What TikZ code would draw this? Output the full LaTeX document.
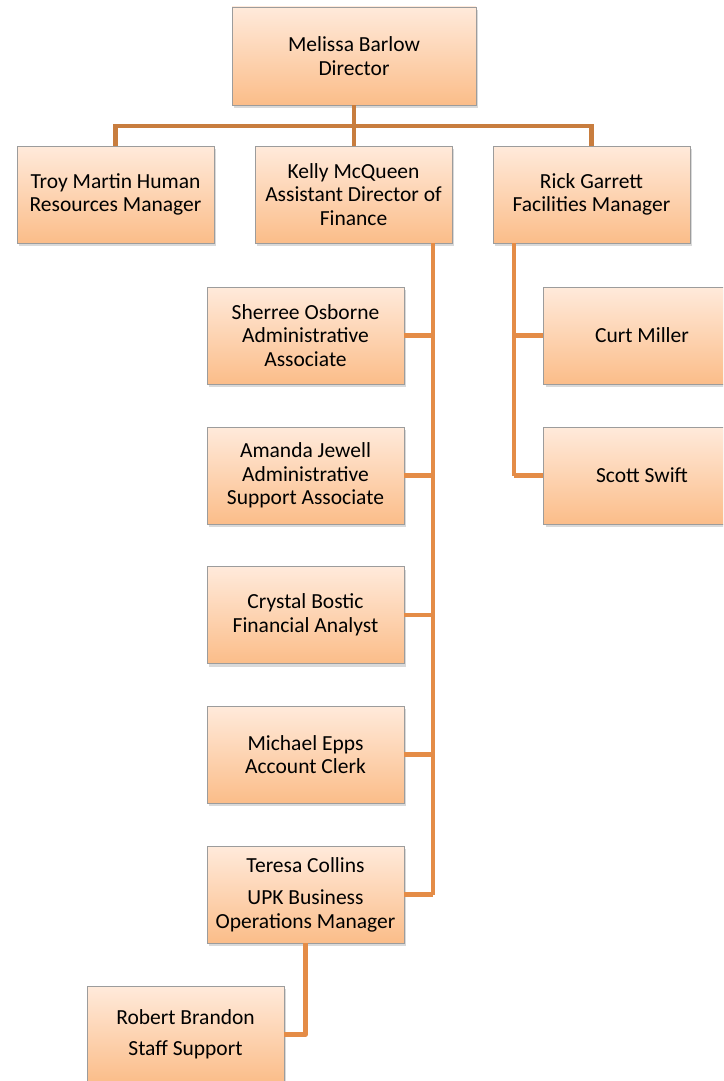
\documentclass[tikz,border=0pt]{standalone}
\usepackage{fontspec}
\setmainfont{Carlito}
\usetikzlibrary{shadows}
\definecolor{boxtop}{HTML}{FFEADB}
\definecolor{boxbot}{HTML}{FBBD89}
\definecolor{boxline}{HTML}{9C9C9C}
\definecolor{linkA}{HTML}{C87D3E}
\definecolor{linkB}{HTML}{E48C47}
\tikzset{
  orgbox/.style={draw=boxline, line width=0.8pt, top color=boxtop, bottom color=boxbot,
    minimum width=197pt, minimum height=97pt, align=center,
    inner sep=0pt, font=\fontsize{21.5}{23.5}\selectfont,
    drop shadow={opacity=0.3, shadow xshift=2pt, shadow yshift=-3pt}},
  linka/.style={draw=linkA, line width=4.5pt},
  linkb/.style={draw=linkB, line width=4.5pt, line join=round},
}
\begin{document}
\begin{tikzpicture}[x=1pt,y=-1pt]
\useasboundingbox (0,0) rectangle (723,1081);
\clip (0,0) rectangle (723,1081);
\node[orgbox, minimum width=244pt, minimum height=98pt] (mb) at (354,56) {Melissa Barlow\\Director};
\node[orgbox] (tm) at (115.5,194.5) {Troy Martin Human\\Resources Manager};
\node[orgbox] (km) at (353.5,194.5) {Kelly McQueen\\Assistant Director of\\Finance};
\node[orgbox] (rg) at (591.5,194.5) {Rick Garrett\\Facilities Manager};
\node[orgbox] (so) at (305.5,335.5) {Sherree Osborne\\Administrative\\Associate};
\node[orgbox] (aj) at (305.5,475.5) {Amanda Jewell\\Administrative\\Support Associate};
\node[orgbox] (cb) at (305.5,615) {Crystal Bostic\\Financial Analyst};
\node[orgbox] (me) at (305.5,754.5) {Michael Epps\\Account Clerk};
\node[orgbox] (tc) at (305.5,894.5) {Teresa Collins\\[9pt]UPK Business\\Operations Manager};
\node[orgbox] (cm) at (642,335.5) {Curt Miller};
\node[orgbox] (ss) at (642,475.5) {Scott Swift};
\node[orgbox] (rb) at (185.5,1034.5) {Robert Brandon\\[8pt]Staff Support};
% top level
\coordinate (hbar) at (354,126);
\coordinate (kx) at (433,0);
\coordinate (rx) at (514,0);
\draw[linka] (mb.south) -- (mb.south |- km.north);
\draw[linka] (tm.north) -- (tm.north |- hbar) -- (rg.north |- hbar) -- (rg.north);
% Kelly's branch
\draw[linkb] (kx |- km.south) -- (kx |- tc.east);
\foreach \n in {so,aj,cb,me,tc} \draw[linkb] (kx |- \n.east) -- (\n.east);
% Rick's branch
\draw[linkb] (rx |- rg.south) -- (rx |- ss.west);
\foreach \n in {cm,ss} \draw[linkb] (rx |- \n.west) -- (\n.west);
% Teresa's branch
\draw[linkb] (tc.south) -- (tc.south |- rb.east) -- (rb.east);
\end{tikzpicture}
\end{document}
